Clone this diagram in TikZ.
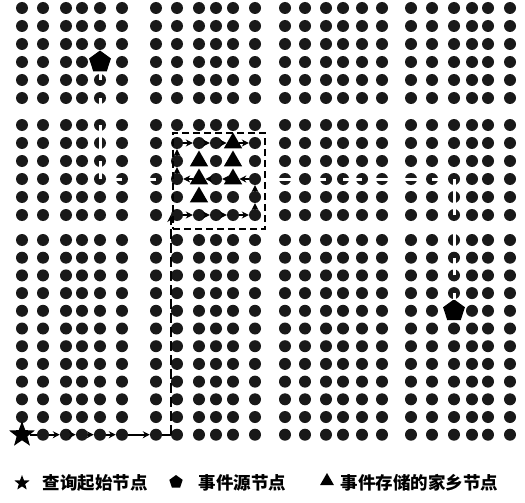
\documentclass[tikz,border=0pt]{standalone}
\usepackage{fontspec}
\newfontfamily\cjk{Noto Sans CJK SC}
\usetikzlibrary{shapes.geometric,arrows.meta}
\newcommand\markskip[2]{\expandafter\def\csname skp-#1-#2\endcsname{}}
\markskip{1}{24}
\markskip{5}{4}\markskip{21}{17}
\markskip{11}{8}\markskip{9}{9}\markskip{11}{9}\markskip{9}{10}\markskip{11}{10}\markskip{9}{11}
\newcommand\mU[1]{\draw[wm] (#1.center) -- ([yshift=7pt]#1.center);}
\newcommand\mN[1]{\draw[wm] (#1.center) -- ([yshift=-7pt]#1.center);}
\newcommand\mV[1]{\draw[wm] ([yshift=7pt]#1.center) -- ([yshift=-7pt]#1.center);}
\newcommand\mH[1]{\draw[wm] ([xshift=-7pt]#1.center) -- ([xshift=7pt]#1.center);}
\newcommand\mC[1]{\draw[wm] (#1.center) -- ([xshift=7pt]#1.center);}
\newcommand\mD[1]{\draw[wm] (#1.center) -- ([xshift=-7pt]#1.center);}
\begin{document}
\begin{tikzpicture}[x=1pt,y=-1pt,
  dot/.style={circle,fill=black!90,inner sep=0pt,minimum size=12pt},
  src/.style={regular polygon,regular polygon sides=5,fill=black,inner sep=0pt,minimum size=23pt},
  home/.style={regular polygon,regular polygon sides=3,fill=black,inner sep=0pt,minimum size=21pt},
  qstart/.style={star,star points=5,star point ratio=2.4,fill=black,inner sep=0pt,minimum size=27pt},
  wm/.style={white,line width=3pt},
  qline/.style={line width=2.2pt,-{Stealth[length=7pt,width=7pt]}},
  qplain/.style={line width=2.2pt},
  legtext/.style={anchor=west,font=\cjk\bfseries\fontsize{17.5}{19}\selectfont}]
\useasboundingbox (0,0) rectangle (525,503);
% grid of sensor nodes
\foreach \x [count=\i] in {22,43,66,82,100,122,156,177,199,216,233,255,285,305,326,343,362,382,411,432,454,472,488,510}{
  \foreach \y [count=\j] in {8,26,44,62,80,98,125,143,161,179,197,215,240,257.7,275.4,293.1,310.8,328.5,346.2,363.9,381.6,399.3,417,434.7}{
    \ifcsname skp-\i-\j\endcsname\else
      \node[dot] (d-\i-\j) at (\x,\y) {};
    \fi
  }
}
% special nodes
\node[qstart] (d-1-24) at (22,434.7) {};
\node[src] (d-5-4) at (100,62) {};
\node[src] (d-21-17) at (454,310.8) {};
\node[home] (d-11-8) at (233,143) {};
\node[home] (d-9-9) at (199,161) {};
\node[home] (d-11-9) at (233,161) {};
\node[home] (d-9-10) at (199,179) {};
\node[home] (d-11-10) at (233,179) {};
\node[home] (d-9-11) at (199,197) {};
% event forwarding routes (white marks through the nodes)
\mU{d-5-5}\mN{d-5-6}\mN{d-5-7}\mV{d-5-8}\mN{d-5-9}\mU{d-5-10}
\mD{d-6-10}\mD{d-7-10}
\mN{d-21-16}\mU{d-21-15}\mN{d-21-14}\mV{d-21-13}\mU{d-21-12}\mV{d-21-11}\mN{d-21-10}
\mC{d-20-10}\mH{d-19-10}\mH{d-18-10}\mD{d-17-10}\mC{d-16-10}\mD{d-15-10}\mH{d-13-10}
% home region
\node[draw,line width=1.8pt,dash pattern=on 7pt off 4pt,minimum width=92pt,minimum height=96pt,inner sep=0pt] (homebox) at (219,181) {};
% query route
\coordinate (qc) at (d-8-12.west |- d-8-24);
\draw[qplain] (d-1-24) -- (d-2-24);
\foreach \a/\b in {2/3,3/4,4/5,5/6,6/7}{\draw[qline] (d-\a-24) -- (d-\b-24);}
\draw[qplain] (d-7-24) -- (qc);
\draw[qline,dash pattern=on 10pt off 4pt] (qc) -- (d-8-12.west);
\foreach \a/\b in {8/9,9/10,10/11,11/12}{\draw[qline] (d-\a-12) -- (d-\b-12);}
\draw[qline] (d-12-12) -- (d-12-11);
\draw[qline] (d-12-11) -- (d-12-10);
\foreach \a/\b in {12/11,11/10,10/9,9/8}{\draw[qline] (d-\a-10) -- (d-\b-10);}
\draw[qline] (d-8-10) -- (d-8-9);
\draw[qline] (d-8-9) -- (d-8-8);
\foreach \a/\b in {8/9,9/10,10/11,11/12}{\draw[qline] (d-\a-8) -- (d-\b-8);}
% legend
\node[star,star points=5,star point ratio=2.4,fill=black,inner sep=0pt,minimum size=16pt] (lg1) at (22,483) {};
\node[legtext] (lt1) at (39,483) {查询起始节点};
\node[regular polygon,regular polygon sides=5,fill=black,inner sep=0pt,minimum size=14pt] (lg2) at (176,482) {};
\node[legtext] (lt2) at (195,483) {事件源节点};
\node[regular polygon,regular polygon sides=3,fill=black,inner sep=0pt,minimum size=16pt] (lg3) at (327,481) {};
\node[legtext] (lt3) at (337,483) {事件存储的家乡节点};
\end{tikzpicture}
\end{document}
